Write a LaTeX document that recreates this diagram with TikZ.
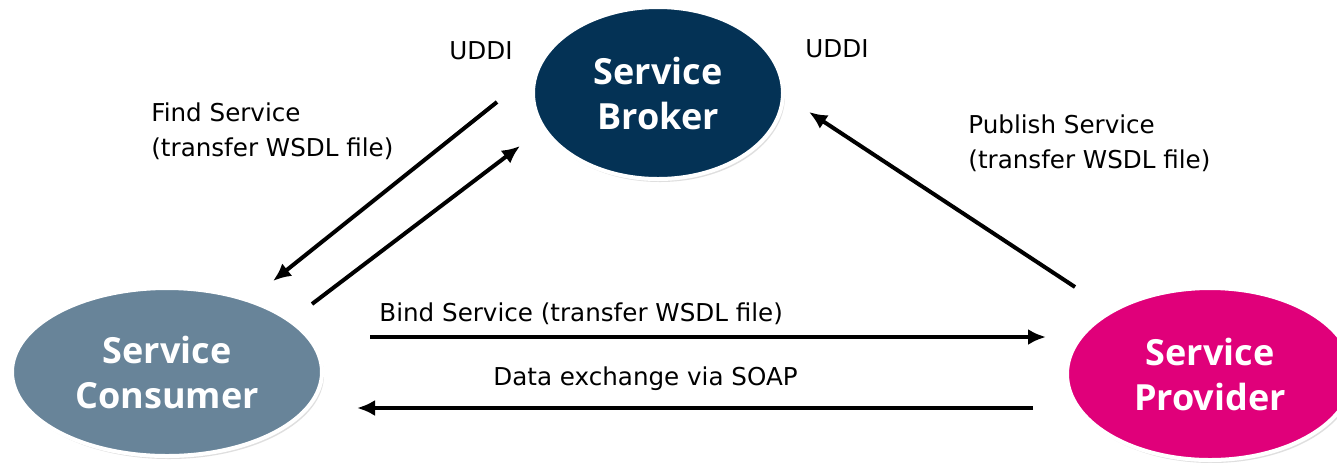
\documentclass[tikz,border=0pt]{standalone}
\usepackage{fontspec}
\setmainfont{DejaVu Sans}
\newfontfamily\headfont{Open Sans}
\usetikzlibrary{arrows.meta,shadows,shapes.geometric}

\definecolor{brokerblue}{HTML}{043255}
\definecolor{consumergray}{HTML}{688499}
\definecolor{providerpink}{HTML}{E0007A}

\begin{document}
\begin{tikzpicture}
        [x=0.5pt,y=-0.5pt,
         party/.style={draw=white,line width=2pt,shape=ellipse,text=white,align=center,inner sep=0,
           font=\headfont\bfseries\fontsize{18}{22.5}\selectfont,
           drop shadow={opacity=0.25,shadow xshift=1pt,shadow yshift=-1.5pt}},
         note/.style={font=\fontsize{12.3}{17.5}\selectfont,align=left,inner sep=0},
         msg/.style={line width=2pt,-{Latex[length=9pt,width=8pt]}}]

        \useasboundingbox[fill=white] (0,0) rectangle (1337,462);

        \node[party,fill=brokerblue,minimum width=125pt,minimum height=86pt] (broker) at (658,93) {Service\\Broker};
        \node[party,fill=consumergray,minimum width=155pt,minimum height=84pt] (consumer) at (167,372) {Service\\Consumer};
        \node[party,fill=providerpink,minimum width=143pt,minimum height=86pt] (provider) at (1210,374) {Service\\Provider};

        \node[note] (uddil) at (481,51) {UDDI};
        \node[note] (uddir) at (837,49) {UDDI};
        \node[note,anchor=west] (find) at (151,131) {Find Service\\(transfer WSDL file)};
        \node[note,anchor=west] (publish) at (968,143) {Publish Service\\(transfer WSDL file)};
        \node[note,anchor=west] (bind) at (379,314) {Bind Service (transfer WSDL file)};
        \node[note,anchor=west] (soap) at (493,379) {Data exchange via SOAP};

        \coordinate (finda) at (497,102);
        \coordinate (findb) at (273,281);
        \coordinate (usea) at (312,304);
        \coordinate (useb) at (520,146);
        \coordinate (puba) at (1075,287);
        \coordinate (pubb) at (809,112);
        \coordinate (binda) at (370,337);
        \coordinate (bindb) at (1046,337);
        \coordinate (soapa) at (1033,408);
        \coordinate (soapb) at (357,408);

        \draw[msg] (finda) -- (findb);
        \draw[msg] (usea) -- (useb);
        \draw[msg] (puba) -- (pubb);
        \draw[msg] (binda) -- (bindb);
        \draw[msg] (soapa) -- (soapb);
      \end{tikzpicture}
\end{document}
